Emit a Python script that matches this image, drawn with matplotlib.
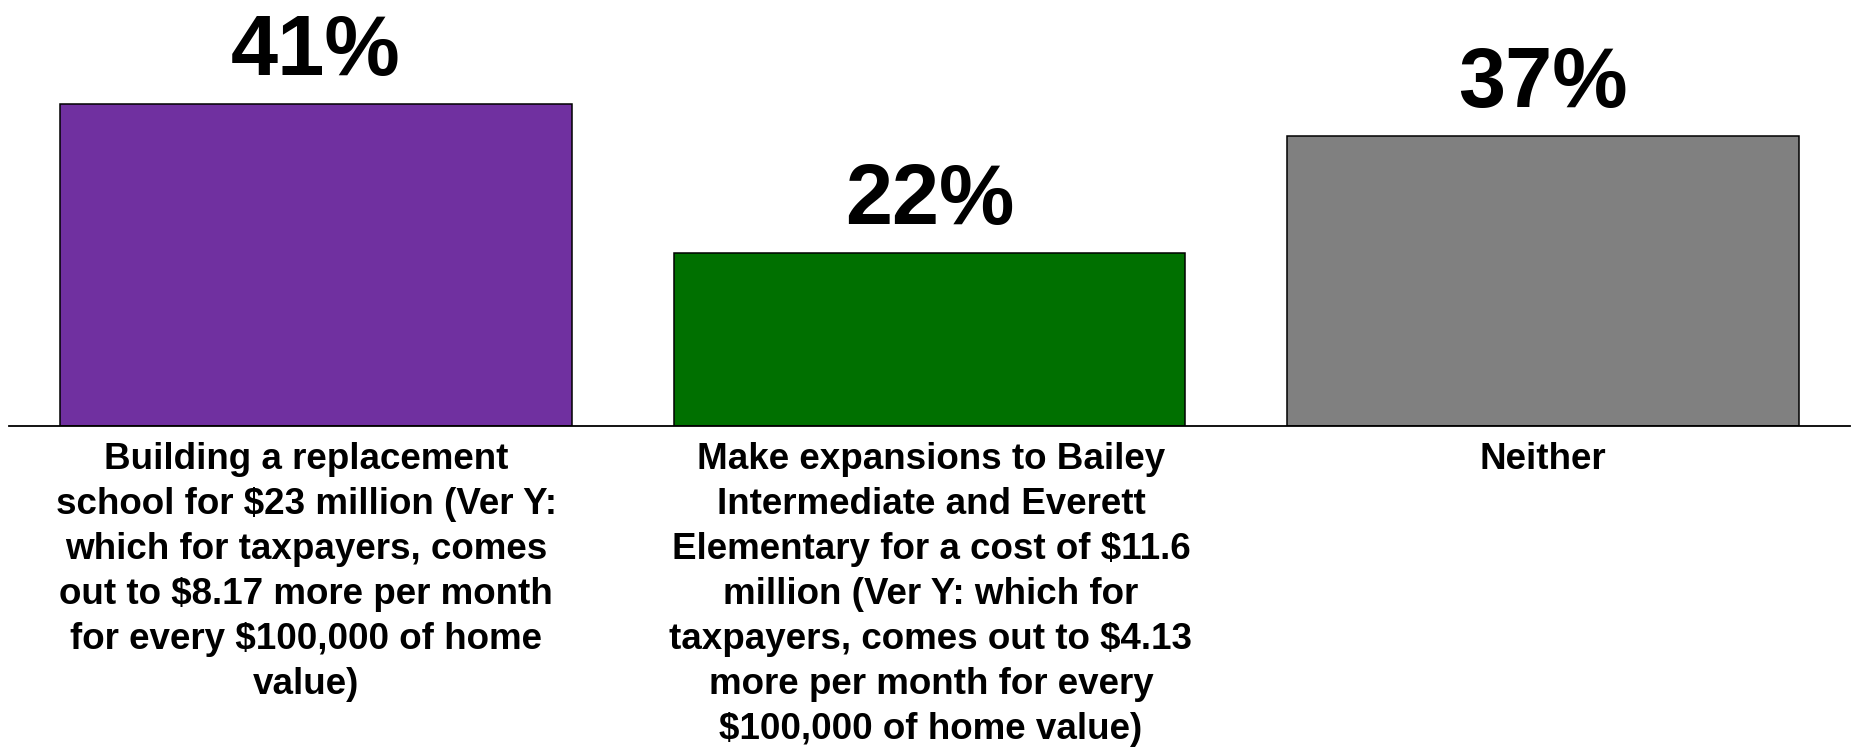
import matplotlib
matplotlib.use('Agg')
import matplotlib.pyplot as plt

categories = [
    "Building a replacement\nschool for $23 million (Ver Y:\nwhich for taxpayers, comes\nout to $8.17 more per month\nfor every $100,000 of home\nvalue)",
    "Make expansions to Bailey\nIntermediate and Everett\nElementary for a cost of $11.6\nmillion (Ver Y: which for\ntaxpayers, comes out to $4.13\nmore per month for every\n$100,000 of home value)",
    "Neither",
]
values = [41, 22, 37]
colors = ['#7030A0', '#007000', '#808080']

plt.rcParams['font.family'] = ['Liberation Sans', 'DejaVu Sans']

fig = plt.figure(figsize=(18.53, 7.47), dpi=100)
ax = fig.add_axes([9 / 1853, 1 - 425.5 / 747, 1841 / 1853, 423 / 747])

x = range(len(values))
bars = ax.bar(x, values, width=0.834, color=colors, edgecolor='black', linewidth=1.1)

ax.set_xlim(-0.5, len(values) - 0.5)
ax.set_ylim(0, 54)

for spine in ('top', 'left', 'right'):
    ax.spines[spine].set_visible(False)
ax.spines['bottom'].set_linewidth(1.3)
ax.set_yticks([])
ax.set_xticks([])

# first label box sits a little left of its bar in the original
label_dx = [-7, 1, 0]

for xi, v in zip(x, values):
    ax.annotate(f'{v}%', (xi, v), xytext=(0, 21), textcoords='offset points',
                ha='center', va='baseline', fontsize=61, fontweight='bold')
    ax.annotate(categories[xi], (xi, 0), xytext=(label_dx[xi], -12),
                textcoords='offset points',
                ha='center', va='top', fontsize=26.5, fontweight='bold',
                linespacing=1.37, annotation_clip=False)

fig.savefig('out.png', dpi=100)
